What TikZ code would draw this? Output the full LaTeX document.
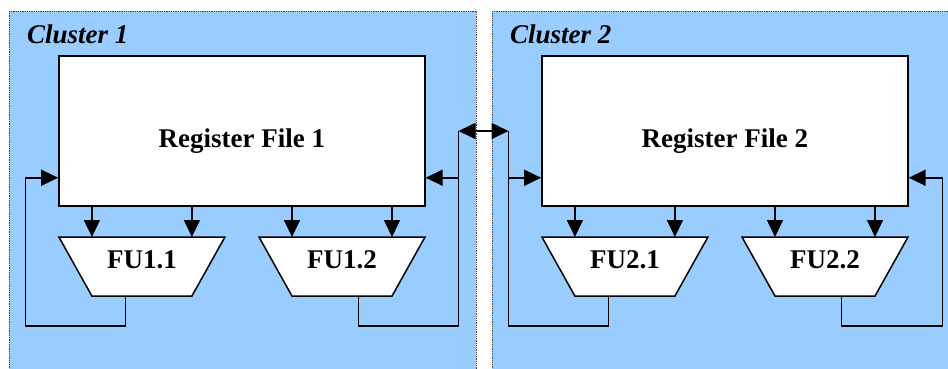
\documentclass[tikz,border=0pt]{standalone}
\usepackage{fontspec}
\setmainfont{Liberation Serif}
\usetikzlibrary{shapes.geometric,arrows.meta,calc}
\definecolor{clusterblue}{RGB}{153,204,255}
\tikzstyle{cluster} = [draw=black!75, densely dotted, line width=0.8pt, fill=clusterblue]
\tikzstyle{clustername} = [anchor=base west, inner sep=0pt, font=\fontsize{27}{30}\selectfont\bfseries\itshape]
\tikzstyle{regfile} = [rectangle, draw, fill=white, line width=1.5pt, minimum width=366pt, minimum height=150pt, font=\fontsize{27}{30}\selectfont\bfseries, text height=33pt, text depth=0pt]
\tikzstyle{fu} = [trapezium, trapezium angle=60.8, trapezium stretches body, shape border rotate=180, draw, fill=white, line width=1.5pt, minimum width=166pt, inner xsep=0pt, inner ysep=13.5pt, font=\fontsize{27}{30}\selectfont\bfseries, text height=18pt, text depth=14pt]
\tikzstyle{line} = [draw, line width=1.5pt, -{Triangle[length=17pt,width=16pt]}]
\tikzstyle{wire} = [draw, line width=1.5pt]

\begin{document}
\begin{tikzpicture}[x=1pt, y=-1pt]
	\useasboundingbox (0,0) rectangle (948,368);
	\clip (0,0) rectangle (948,368);
	%% clusters
	\path[cluster] (9,11) rectangle (476,385);
	\path[cluster] (492,11) rectangle (959,385);
	\node[clustername] (C1) at (27,43) {Cluster 1};
	\node[clustername] (C2) at (510,43) {Cluster 2};
	%% register files
	\node[regfile] (RF1) at (241.9,131) {Register File 1};
	\node[regfile] (RF2) at (724.9,131) {Register File 2};
	%% functional units
	\node[fu] (FU11) at (141.9,266.5) {FU1.1};
	\node[fu] (FU12) at (342,266.5) {FU1.2};
	\node[fu] (FU21) at (624.9,266.5) {FU2.1};
	\node[fu] (FU22) at (825,266.5) {FU2.2};
	%% corners of the feedback wires
	\coordinate (out11) at ($(FU11.south)+(-16.5,0)$);
	\coordinate (out12) at ($(FU12.south)+(16.5,0)$);
	\coordinate (out21) at ($(FU21.south)+(-16.5,0)$);
	\coordinate (out22) at ($(FU22.south)+(16.5,0)$);
	\coordinate (in11) at ($(RF1.south west)+(0,-29)$);
	\coordinate (in12) at ($(RF1.south east)+(0,-29)$);
	\coordinate (in21) at ($(RF2.south west)+(0,-29)$);
	\coordinate (in22) at ($(RF2.south east)+(0,-29)$);
	\coordinate (fb11) at (25.7,326);
	\coordinate (fb12) at (458.5,326);
	\coordinate (fb21) at (508.5,326);
	\coordinate (fb22) at (942.5,326);
	\coordinate (top1) at (458.5,131);
	\coordinate (top2) at (508.5,131);
	%% operands
	\path[line] ($(FU11.center |- RF1.south)+(-50,0)$) -- ($(FU11.center)+(-50,-29.5)$);
	\path[line] ($(FU11.center |- RF1.south)+(50,0)$) -- ($(FU11.center)+(50,-29.5)$);
	\path[line] ($(FU12.center |- RF1.south)+(-50,0)$) -- ($(FU12.center)+(-50,-29.5)$);
	\path[line] ($(FU12.center |- RF1.south)+(50,0)$) -- ($(FU12.center)+(50,-29.5)$);
	\path[line] ($(FU21.center |- RF2.south)+(-50,0)$) -- ($(FU21.center)+(-50,-29.5)$);
	\path[line] ($(FU21.center |- RF2.south)+(50,0)$) -- ($(FU21.center)+(50,-29.5)$);
	\path[line] ($(FU22.center |- RF2.south)+(-50,0)$) -- ($(FU22.center)+(-50,-29.5)$);
	\path[line] ($(FU22.center |- RF2.south)+(50,0)$) -- ($(FU22.center)+(50,-29.5)$);
	%% results
	\path[line] (out11) |- (fb11) |- (in11);
	\path[wire] (out12) |- (fb12) -- (top1);
	\path[line] (fb12 |- in12) -- (in12);
	\path[wire] (out21) |- (fb21) -- (top2);
	\path[line] (fb21 |- in21) -- (in21);
	\path[line] (out22) |- (fb22) |- (in22);
	%% copy between clusters
	\path[line, {Triangle[length=17pt,width=16pt]}-{Triangle[length=17pt,width=16pt]}] (top1) -- (top2);
\end{tikzpicture}
\end{document}
